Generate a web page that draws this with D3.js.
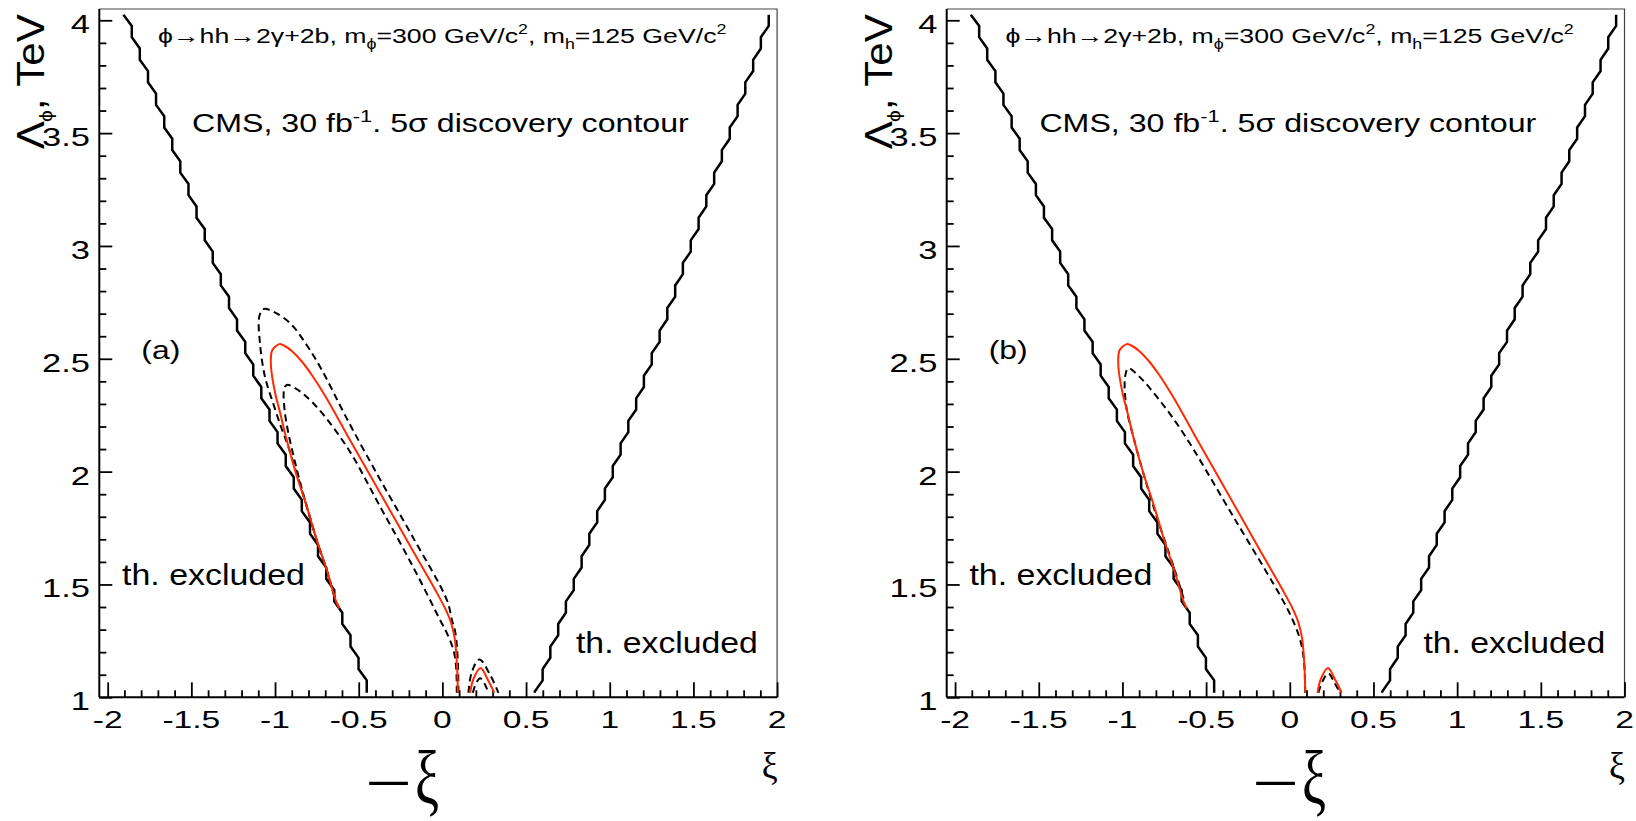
<!DOCTYPE html>
<html>
<head>
<meta charset="utf-8">
<script src="https://cdn.jsdelivr.net/npm/d3@7"></script>
<style>
body { margin: 0; background: #fff; }
svg text { font-family: "Liberation Sans", Arial, sans-serif; fill: #000; }
</style>
</head>
<body>
<div id="mainArea"></div>
<script>
// axis ranges and ticks
var xDomain = [-2.05, 2.0];
var yDomain = [1, 4.05];
var xMajor = [-2, -1.5, -1, -0.5, 0, 0.5, 1, 1.5, 2];
var yMajor = [1, 1.5, 2, 2.5, 3, 3.5, 4];

// theoretical exclusion boundaries [xi, Lambda]
var leftBound = [[-1.906,4.025],
 [-1.856,3.975],[-1.856,3.925],[-1.808,3.875],[-1.808,3.825],[-1.759,3.775],[-1.759,3.725],
 [-1.711,3.675],[-1.711,3.625],[-1.662,3.575],[-1.662,3.525],[-1.614,3.475],[-1.614,3.425],
 [-1.566,3.375],[-1.566,3.325],[-1.517,3.275],[-1.517,3.225],[-1.469,3.175],[-1.469,3.125],
 [-1.420,3.075],[-1.420,3.025],[-1.372,2.975],[-1.372,2.925],[-1.324,2.875],[-1.324,2.825],
 [-1.275,2.775],[-1.275,2.725],[-1.227,2.675],[-1.227,2.625],[-1.178,2.575],[-1.178,2.525],
 [-1.130,2.475],[-1.130,2.425],[-1.082,2.375],[-1.082,2.325],[-1.033,2.275],[-1.033,2.225],
 [-0.985,2.175],[-0.985,2.125],[-0.936,2.075],[-0.936,2.025],[-0.888,1.975],[-0.888,1.925],
 [-0.840,1.875],[-0.840,1.825],[-0.791,1.775],[-0.791,1.725],[-0.743,1.675],[-0.743,1.625],
 [-0.694,1.575],[-0.694,1.525],[-0.646,1.475],[-0.646,1.425],[-0.598,1.375],[-0.598,1.325],
 [-0.549,1.275],[-0.549,1.225],[-0.501,1.175],[-0.501,1.125],[-0.452,1.075],[-0.452,1.02]];

var rightBound = [[1.950,4.025],[1.950,3.975],
 [1.903,3.925],[1.903,3.875],[1.857,3.825],[1.857,3.775],[1.810,3.725],[1.810,3.675],
 [1.764,3.625],[1.764,3.575],[1.717,3.525],[1.717,3.475],[1.670,3.425],[1.670,3.375],
 [1.624,3.325],[1.624,3.275],[1.577,3.225],[1.577,3.175],[1.531,3.125],[1.531,3.075],
 [1.484,3.025],[1.484,2.975],[1.437,2.925],[1.437,2.875],[1.391,2.825],[1.391,2.775],
 [1.344,2.725],[1.344,2.675],[1.298,2.625],[1.298,2.575],[1.251,2.525],[1.251,2.475],
 [1.204,2.425],[1.204,2.375],[1.158,2.325],[1.158,2.275],[1.111,2.225],[1.111,2.175],
 [1.065,2.125],[1.065,2.075],[1.018,2.025],[1.018,1.975],[0.971,1.925],[0.971,1.875],
 [0.925,1.825],[0.925,1.775],[0.878,1.725],[0.878,1.675],[0.832,1.625],[0.832,1.575],
 [0.785,1.525],[0.785,1.475],[0.738,1.425],[0.738,1.375],[0.692,1.325],[0.692,1.275],
 [0.645,1.225],[0.645,1.175],[0.599,1.125],[0.599,1.075],[0.552,1.025],[0.552,1.02]];

// 5 sigma contours (red, same in both panels)
var redMain = [[0.092,1.02],[0.090,1.10],[0.084,1.18],[0.074,1.26],[0.052,1.33],[0.022,1.385],
 [-0.038,1.470],[-0.173,1.645],[-0.372,1.905],[-0.571,2.165],[-0.700,2.335],[-0.780,2.428],
 [-0.840,2.488],[-0.900,2.535],[-0.950,2.560],[-0.974,2.565],[-1.000,2.553],[-1.020,2.532],
 [-1.024,2.465],[-0.999,2.347],[-0.974,2.274],[-0.935,2.155],[-0.875,1.993],[-0.810,1.845],
 [-0.751,1.697],[-0.691,1.564],[-0.631,1.417],[-0.615,1.394]];
var redArch = [[0.166,1.02],[0.185,1.08],[0.228,1.13],[0.270,1.08],[0.310,1.02]];

// dashed contours, panel (a)
var dashOuterA = [[0.096,1.02],[0.092,1.165],[0.078,1.284],[0.057,1.343],[0.027,1.431],
 [-0.173,1.705],[-0.372,1.965],[-0.571,2.235],[-0.720,2.45],[-0.810,2.56],[-0.910,2.658],
 [-1.010,2.709],[-1.070,2.720],[-1.094,2.687],[-1.090,2.569],[-1.060,2.420],[-1.010,2.300],
 [-0.965,2.200],[-0.925,2.120],[-0.870,1.990],[-0.808,1.840],[-0.750,1.695],[-0.690,1.560],
 [-0.632,1.415],[-0.618,1.394]];
var dashInnerA = [[0.086,1.02],[0.082,1.135],[0.066,1.210],[0.027,1.284],[-0.014,1.343],
 [-0.173,1.575],[-0.372,1.845],[-0.571,2.110],[-0.771,2.303],[-0.880,2.370],[-0.930,2.384],
 [-0.946,2.362],[-0.943,2.274],[-0.920,2.170],[-0.880,2.040],[-0.820,1.870],[-0.751,1.697],
 [-0.691,1.564],[-0.631,1.417],[-0.615,1.394]];
var archOuterA = [[0.156,1.02],[0.175,1.11],[0.221,1.168],[0.285,1.10],[0.335,1.02]];
var archInnerA = [[0.182,1.02],[0.200,1.06],[0.226,1.084],[0.252,1.06],[0.275,1.02]];

// dashed contours, panel (b)
var dashB = [[0.092,1.02],[0.086,1.15],[0.064,1.250],[0.022,1.335],[-0.038,1.425],
 [-0.337,1.800],[-0.636,2.170],[-0.780,2.318],[-0.899,2.421],[-0.964,2.458],[-0.984,2.421],
 [-0.977,2.288],[-0.935,2.155],[-0.875,1.993],[-0.795,1.800],[-0.735,1.668],[-0.675,1.535],
 [-0.626,1.417]];
var archB = [[0.171,1.02],[0.195,1.07],[0.231,1.106],[0.270,1.06],[0.300,1.02]];

function mainInit()
{
  var width = 1636, height = 821;
  var top = 9, bottom = 697.3, pw = 677.8;
  var serif = "'Liberation Serif', 'DejaVu Serif', serif";
  var svg = d3.select("#mainArea").append("svg")
      .attr("width", width).attr("height", height);

  var panels = [
    {x0: 99.3, tag: "(a)", dashed: [dashOuterA, dashInnerA, archOuterA, archInnerA], bigXi: 365},
    {x0: 946.7, tag: "(b)", dashed: [dashB, archB], bigXi: 1252}
  ];

  // stretch text horizontally to a measured width
  function fit(t, x, y, w, rot) {
    var bw = t.node().getBBox().width;
    t.attr("transform", "translate(" + x + "," + y + ")" + (rot ? " rotate(" + rot + ")" : "") +
      " scale(" + (w / bw) + ",1)");
  }

  panels.forEach(function(p, i) {
    var x = d3.scaleLinear().domain(xDomain).range([p.x0, p.x0 + pw]);
    var y = d3.scaleLinear().domain(yDomain).range([bottom, top]);
    var g = svg.append("g");

    g.append("clipPath").attr("id", "clip" + i).append("rect")
      .attr("x", p.x0).attr("y", top).attr("width", pw).attr("height", bottom - top);

    // frame top/right
    g.append("path")
      .attr("d", "M" + p.x0 + "," + top + "H" + (p.x0 + pw) + "V" + bottom)
      .attr("fill", "none").attr("stroke", "#444").attr("stroke-width", 1.2);

    // x axis
    var xa = d3.axisBottom(x).tickValues(d3.range(-20, 21).map(function(d) { return d / 10; }))
      .tickSize(-7).tickFormat("");
    var gx = g.append("g").attr("transform", "translate(0," + bottom + ")").call(xa);
    gx.select(".domain").remove();
    gx.selectAll(".tick line").filter(function(d) { return xMajor.some(function(m) { return Math.abs(m - d) < 1e-6; }); })
      .attr("y2", -15);
    gx.selectAll(".tick line").attr("stroke", "#000").attr("stroke-width", 1.8);
    g.append("line").attr("x1", p.x0).attr("x2", p.x0 + pw).attr("y1", bottom).attr("y2", bottom)
      .attr("stroke", "#000").attr("stroke-width", 2);

    xMajor.forEach(function(v) {
      var t = g.append("text").attr("text-anchor", "middle").style("font-size", "24px").text(v);
      fit(t, x(v), 727.5, t.node().getBBox().width * 1.4);
    });

    // y axis
    var ya = d3.axisLeft(y).tickValues(d3.range(10, 41).map(function(d) { return d / 10; }))
      .tickSize(-7).tickFormat("");
    var gy = g.append("g").attr("transform", "translate(" + p.x0 + ",0)").call(ya);
    gy.select(".domain").remove();
    gy.selectAll(".tick line").filter(function(d) { return yMajor.some(function(m) { return Math.abs(m - d) < 1e-6; }); })
      .attr("x2", 13);
    gy.selectAll(".tick line").attr("stroke", "#000").attr("stroke-width", 1.8);
    g.append("line").attr("x1", p.x0).attr("x2", p.x0).attr("y1", top).attr("y2", bottom)
      .attr("stroke", "#000").attr("stroke-width", 2);

    yMajor.forEach(function(v) {
      var t = g.append("text").attr("text-anchor", "end").style("font-size", "25px").text(v);
      fit(t, p.x0 - 9.3, y(v) + 13, t.node().getBBox().width * 1.38);
    });

    // curves
    var line = d3.line().x(function(d) { return x(d[0]); }).y(function(d) { return y(d[1]); });
    var smooth = d3.line().x(function(d) { return x(d[0]); }).y(function(d) { return y(d[1]); })
      .curve(d3.curveCatmullRom.alpha(0.5));
    var c = g.append("g").attr("clip-path", "url(#clip" + i + ")");

    [leftBound, rightBound].forEach(function(b) {
      c.append("path").attr("d", line(b)).attr("fill", "none")
        .attr("stroke", "#000").attr("stroke-width", 2.5).attr("stroke-linejoin", "miter");
    });
    p.dashed.forEach(function(d) {
      c.append("path").attr("d", smooth(d)).attr("fill", "none")
        .attr("stroke", "#000").attr("stroke-width", 2).attr("stroke-dasharray", "7,4.5");
    });
    [redMain, redArch].forEach(function(d) {
      c.append("path").attr("d", smooth(d)).attr("fill", "none")
        .attr("stroke", "#ff2a00").attr("stroke-width", 2);
    });

    // annotations
    var t1 = g.append("text").style("font-size", "21px");
    t1.append("tspan").text("\u03d5\u2192hh\u21922\u03b3+2b, m");
    t1.append("tspan").attr("dy", 6).style("font-size", "14px").text("\u03d5");
    t1.append("tspan").attr("dy", -6).text("=300 GeV/c");
    t1.append("tspan").attr("dy", -9).style("font-size", "14px").text("2");
    t1.append("tspan").attr("dy", 9).text(", m");
    t1.append("tspan").attr("dy", 6).style("font-size", "14px").text("h");
    t1.append("tspan").attr("dy", -6).text("=125 GeV/c");
    t1.append("tspan").attr("dy", -9).style("font-size", "14px").text("2");
    fit(t1, p.x0 + 58.7, 43, 569);

    var t2 = g.append("text").style("font-size", "25px");
    t2.append("tspan").text("CMS, 30 fb");
    t2.append("tspan").attr("dy", -10).style("font-size", "17px").text("-1");
    t2.append("tspan").attr("dy", 10).text(". 5\u03c3 discovery contour");
    fit(t2, p.x0 + 92.7, 132, 497);

    var t3 = g.append("text").style("font-size", "26px").text(p.tag);
    fit(t3, p.x0 + 42, 359, 39);

    var t4 = g.append("text").style("font-size", "30px").text("th. excluded");
    fit(t4, p.x0 + 22.7, 585, 183);
    var t5 = g.append("text").style("font-size", "30px").text("th. excluded");
    fit(t5, p.x0 + 476.7, 653, 182);

    // axis titles
    var yt = g.append("text").attr("text-anchor", "end").style("font-size", "38px");
    yt.append("tspan").text("\u039b");
    yt.append("tspan").attr("dy", 8).attr("dx", -1).style("font-size", "19px").text("\u03d5");
    yt.append("tspan").attr("dy", -8).text(", TeV");
    fit(yt, p.x0 - 55, 14, 136, -90);

    var sx = g.append("text").attr("text-anchor", "end")
      .style("font-family", serif).style("font-size", "38px").text("\u03be");
    fit(sx, p.x0 + pw + 0.5, 779, 16);

    var bm = g.append("text").style("font-family", serif).style("font-size", "68px").text("\u2212");
    fit(bm, p.bigXi, 806, 47);
    var bx = g.append("text").style("font-family", serif).style("font-size", "76px").text("\u03be");
    fit(bx, p.bigXi + 50, 804, 24);
  });
}

window.onload = mainInit;
</script>
</body>
</html>
